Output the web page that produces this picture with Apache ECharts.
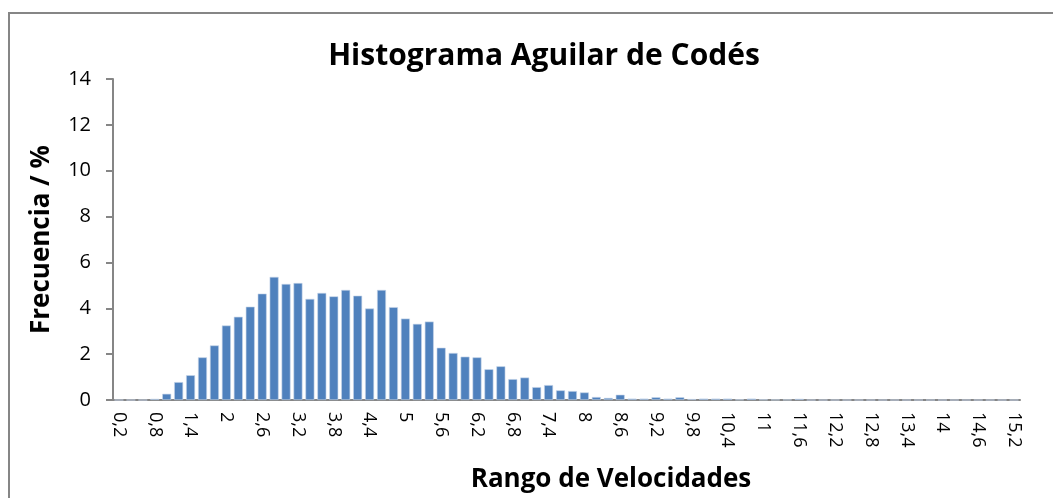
<!DOCTYPE html>
<html>
<head>
<meta charset="utf-8">
<script src="https://cdn.jsdelivr.net/npm/echarts@6/dist/echarts.min.js"></script>
<style>
  html, body { margin: 0; padding: 0; background: #ffffff; }
  .frame {
    position: absolute;
    left: 8px;
    top: 12px;
    width: 1100px;
    height: 600px;
    border-left: 2px solid #868686;
    border-top: 2px solid #868686;
  }
  #histChart { position: absolute; left: 0; top: 0; width: 1053px; height: 498px; }
</style>
</head>
<body>
<div class="frame"></div>
<div id="histChart"></div>
<script>
// rango de velocidades (clases de 0,2)
var categorias = [
  "0,2", "0,4", "0,6", "0,8", "1", "1,2", "1,4", "1,6", "1,8", "2",
  "2,2", "2,4", "2,6", "2,8", "3", "3,2", "3,4", "3,6", "3,8", "4",
  "4,2", "4,4", "4,6", "4,8", "5", "5,2", "5,4", "5,6", "5,8", "6",
  "6,2", "6,4", "6,6", "6,8", "7", "7,2", "7,4", "7,6", "7,8", "8",
  "8,2", "8,4", "8,6", "8,8", "9", "9,2", "9,4", "9,6", "9,8", "10",
  "10,2", "10,4", "10,6", "10,8", "11", "11,2", "11,4", "11,6", "11,8", "12",
  "12,2", "12,4", "12,6", "12,8", "13", "13,2", "13,4", "13,6", "13,8", "14",
  "14,2", "14,4", "14,6", "14,8", "15", "15,2"
];
// frecuencia en %
var frecuencia = [
  0, 0, 0, 0.05, 0.27, 0.78, 1.08, 1.86, 2.38, 3.25,
  3.63, 4.07, 4.64, 5.37, 5.06, 5.1, 4.41, 4.67, 4.52, 4.8,
  4.55, 3.99, 4.8, 4.05, 3.55, 3.32, 3.42, 2.28, 2.05, 1.89,
  1.86, 1.34, 1.47, 0.91, 0.98, 0.56, 0.65, 0.42, 0.39, 0.33,
  0.13, 0.09, 0.23, 0.06, 0.06, 0.12, 0.06, 0.12, 0.04, 0.06,
  0.06, 0.06, 0.02, 0.06, 0.02, 0.01, 0.01, 0.05, 0, 0,
  0, 0, 0, 0, 0, 0, 0, 0, 0, 0,
  0, 0, 0, 0, 0, 0
];
var yTicks = { min: 0, max: 14, interval: 2 };

var fuente = "'Open Sans', 'DejaVu Sans', sans-serif";
var myChart = echarts.init(document.getElementById("histChart"));
var option = {
  animation: false,
  title: {
    text: "Histograma Aguilar de Codés",
    left: 539,
    top: 36,
    textAlign: "center",
    textStyle: { fontFamily: fuente, fontSize: 30, fontWeight: "bold", color: "#000000" }
  },
  grid: { left: 113, right: 33, top: 79, bottom: 96 },
  xAxis: {
    type: "category",
    data: categorias,
    name: "Rango de Velocidades",
    nameLocation: "middle",
    nameGap: 67,
    nameTextStyle: { fontFamily: fuente, fontSize: 26, fontWeight: "bold", color: "#000000", padding: [0, 0, 0, 89] },
    axisLine: { lineStyle: { color: "#868686", width: 2 } },
    axisTick: { interval: 0, length: 6, lineStyle: { color: "#868686", width: 2 } },
    axisLabel: {
      interval: 2,
      rotate: -90,
      margin: 12,
      fontFamily: fuente,
      fontSize: 18,
      color: "#000000"
    }
  },
  yAxis: {
    type: "value",
    min: yTicks.min,
    max: yTicks.max,
    interval: yTicks.interval,
    name: "Frecuencia / %",
    nameLocation: "middle",
    nameGap: 58,
    nameRotate: 90,
    nameTextStyle: { fontFamily: fuente, fontSize: 26, fontWeight: "bold", color: "#000000" },
    splitLine: { show: false },
    axisLine: { show: true, lineStyle: { color: "#868686", width: 2 } },
    axisTick: { show: true, length: 7, lineStyle: { color: "#868686", width: 2 } },
    axisLabel: { margin: 22, fontFamily: fuente, fontSize: 20, color: "#000000" }
  },
  series: [
    {
      name: "Frecuencia",
      type: "bar",
      data: frecuencia,
      barCategoryGap: "25%",
      itemStyle: { color: "#4F81BD", borderColor: "#c6d5ea", borderWidth: 0.6 }
    }
  ]
};
myChart.setOption(option);
</script>
</body>
</html>
